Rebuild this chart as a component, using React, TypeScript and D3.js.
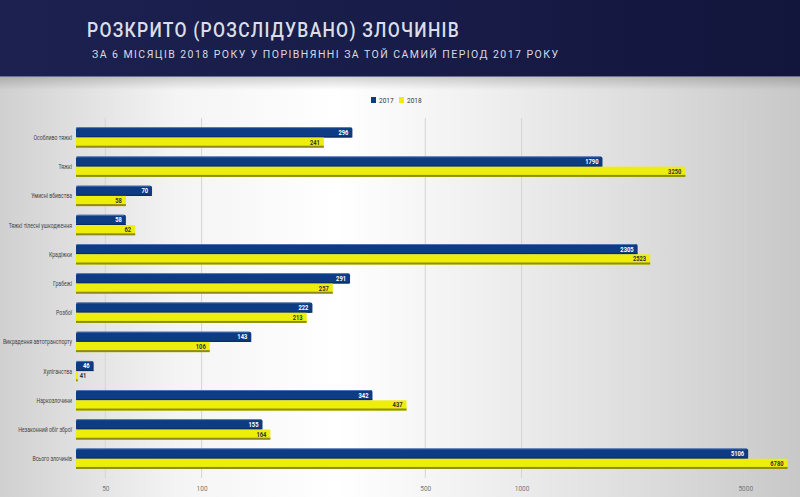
import React, { useEffect, useRef } from 'react';
import * as d3 from 'd3';

const categories = [
  'Особливо тяжкі',
  'Тяжкі',
  'Умисні вбивства',
  'Тяжкі тілесні ушкодження',
  'Крадіжки',
  'Грабежі',
  'Розбої',
  'Викрадення автотранспорту',
  'Хуліганства',
  'Наркозлочини',
  'Незаконний обіг зброї',
  'Всього злочинів'
];
const values2017 = [296, 1790, 70, 58, 2305, 291, 222, 143, 46, 342, 155, 5106];
const values2018 = [241, 3250, 58, 62, 2523, 257, 213, 106, 41, 437, 164, 6780];
const tickValues = [50, 100, 500, 1000, 5000];
const seriesNames = ['2017', '2018'];

const BLUE = '#0e3c84';
const YELLOW = '#eeee0c';

// squeeze a text horizontally (the original uses a condensed face)
function condense(sel: d3.Selection<any, any, any, any>, k: number) {
  sel.each(function () {
    const t = this as SVGTextElement;
    const w = t.getComputedTextLength();
    if (w > 0) t.setAttribute('textLength', String(w * k));
    t.setAttribute('lengthAdjust', 'spacingAndGlyphs');
  });
}

export default function App() {
  const svgRef = useRef<SVGSVGElement>(null);

  useEffect(() => {
    if (!svgRef.current) return;
    const svg = d3.select(svgRef.current);
    svg.selectAll('*').remove();

    const width = 800;
    const height = 497;
    const defs = svg.append('defs');

    // background gradient
    const bg = defs.append('linearGradient').attr('id', 'bg').attr('x1', 0).attr('x2', 1).attr('y1', 0).attr('y2', 0);
    [[0, '#d0d0d0'], [0.22, '#f4f4f4'], [0.42, '#ffffff'], [0.6, '#f0f0f0'], [0.8, '#dddddd'], [1, '#c8c8c8']]
      .forEach(([o, c]) => bg.append('stop').attr('offset', o as number).attr('stop-color', c as string));

    const hdr = defs.append('linearGradient').attr('id', 'hdr').attr('x1', 0).attr('x2', 1).attr('y1', 0).attr('y2', 0);
    [[0, '#1d2150'], [0.5, '#181c48'], [1, '#12163c']]
      .forEach(([o, c]) => hdr.append('stop').attr('offset', o as number).attr('stop-color', c as string));

    const shadow = defs.append('linearGradient').attr('id', 'shadow').attr('x1', 0).attr('x2', 0).attr('y1', 0).attr('y2', 1);
    shadow.append('stop').attr('offset', 0).attr('stop-color', '#000').attr('stop-opacity', 0.18);
    shadow.append('stop').attr('offset', 1).attr('stop-color', '#000').attr('stop-opacity', 0);

    svg.append('rect').attr('width', width).attr('height', height).attr('fill', 'url(#bg)');

    // header
    svg.append('rect').attr('width', width).attr('height', 76).attr('fill', 'url(#hdr)');
    svg.append('rect').attr('y', 76).attr('width', width).attr('height', 14).attr('fill', 'url(#shadow)');
    svg.append('line').attr('x1', 0).attr('x2', width).attr('y1', 76.5).attr('y2', 76.5)
      .attr('stroke', '#6a6f98').attr('stroke-width', 1);

    const title = svg.append('text')
      .attr('x', 87).attr('y', 37)
      .attr('font-family', 'Roboto, sans-serif').attr('font-weight', 500)
      .attr('font-size', 21).attr('letter-spacing', 1.5).attr('fill', '#dcdde6')
      .text('РОЗКРИТО (РОЗСЛІДУВАНО) ЗЛОЧИНІВ');
    title.attr('textLength', 373).attr('lengthAdjust', 'spacingAndGlyphs');

    svg.append('text')
      .attr('x', 92).attr('y', 57.5)
      .attr('textLength', 466).attr('lengthAdjust', 'spacing')
      .attr('font-family', 'Roboto, sans-serif').attr('font-weight', 400)
      .attr('font-size', 10.5).attr('fill', '#d8d9e4')
      .text('ЗА 6 МІСЯЦІВ 2018 РОКУ У ПОРІВНЯННІ ЗА ТОЙ САМИЙ ПЕРІОД 2017 РОКУ');

    // legend
    const legend = svg.append('g').attr('font-family', 'Roboto, sans-serif').attr('font-size', 6.5).attr('fill', '#333');
    seriesNames.forEach((name, i) => {
      const lx = 371 + i * 28;
      legend.append('rect').attr('x', lx).attr('y', 97).attr('width', 5).attr('height', 6)
        .attr('fill', i === 0 ? BLUE : YELLOW);
      legend.append('text').attr('x', lx + 8).attr('y', 102.5).text(name);
    });

    // scales
    const x = d3.scaleLog().domain([40.5, 7000]).range([76, 792]);
    const y = d3.scaleBand<string>().domain(categories).range([118.5, 477.7]).padding(0.3);
    const bh = y.bandwidth() / 2;

    // gridlines
    svg.append('g').selectAll('line').data(tickValues).join('line')
      .attr('x1', d => x(d)).attr('x2', d => x(d))
      .attr('y1', 118).attr('y2', 478)
      .attr('stroke', '#d4d4d4').attr('stroke-width', 1);

    // tick labels
    const axis = svg.append('g').attr('transform', 'translate(0,483)')
      .call(d3.axisBottom(x).tickValues(tickValues).tickFormat(d3.format('d')).tickSize(0));
    axis.select('.domain').remove();
    axis.selectAll('text').attr('font-family', 'Roboto, sans-serif').attr('font-size', 6.5).attr('fill', '#777');

    // category labels
    const cats = svg.append('g').selectAll('text').data(categories).join('text')
      .attr('x', 72).attr('y', d => (y(d) as number) + y.bandwidth() / 2 + 2.5)
      .attr('text-anchor', 'end')
      .attr('font-family', 'Roboto, sans-serif').attr('font-size', 6.8).attr('fill', '#444')
      .text(d => d);
    condense(cats, 0.76);

    const x0 = x.range()[0];
    const rows = categories.map((c, i) => ({ c, v1: values2017[i], v2: values2018[i] }));
    const g = svg.append('g');

    rows.forEach(r => {
      const top = y(r.c) as number;
      // 2017 bar
      const w1 = x(r.v1) - x0;
      g.append('rect').attr('x', x0).attr('y', top).attr('width', w1).attr('height', bh)
        .attr('rx', 2).attr('fill', BLUE);
      g.append('rect').attr('x', x0).attr('y', top).attr('width', Math.max(0, w1 - 2)).attr('height', 0.8)
        .attr('fill', '#5d82bd');
      g.append('rect').attr('x', x0).attr('y', top + bh - 1.2).attr('width', w1).attr('height', 1.2)
        .attr('fill', '#0a2b63');
      const t1 = g.append('text').attr('x', x(r.v1) - 4).attr('y', top + bh / 2 + 2.5)
        .attr('text-anchor', 'end').attr('font-family', 'Roboto, sans-serif').attr('font-weight', 700)
        .attr('font-size', 6.8).attr('fill', '#fff').text(r.v1);
      condense(t1, 0.85);

      // 2018 bar
      const w2 = x(r.v2) - x0;
      g.append('rect').attr('x', x0).attr('y', top + bh).attr('width', w2).attr('height', bh)
        .attr('fill', YELLOW);
      g.append('rect').attr('x', x0).attr('y', top + 2 * bh - 2).attr('width', w2).attr('height', 2)
        .attr('fill', '#8e8c14');
      const inside = w2 > 10;
      const t2 = g.append('text').attr('x', inside ? x(r.v2) - 4 : x(r.v2) + 2).attr('y', top + bh + bh / 2 + 2)
        .attr('text-anchor', inside ? 'end' : 'start')
        .attr('font-family', 'Roboto, sans-serif').attr('font-weight', 700)
        .attr('font-size', 6.8).attr('fill', '#333').text(r.v2);
      condense(t2, 0.85);
    });
  }, []);

  return (
    <div style={{ position: 'absolute', left: 0, top: 0 }}>
      <svg ref={svgRef} width={800} height={497} style={{ display: 'block' }}></svg>
    </div>
  );
}
